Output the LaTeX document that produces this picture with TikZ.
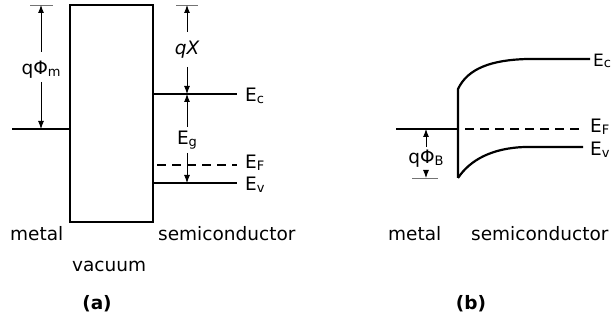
\documentclass[tikz,border=0pt]{standalone}
\usepackage{fontspec}
\setmainfont{DejaVu Sans}
\usetikzlibrary{arrows.meta}
\begin{document}
\begin{tikzpicture}[x=1pt,y=-1pt,
  band/.style={line width=2.2pt},
  dashband/.style={line width=2.2pt,dash pattern=on 9pt off 6pt},
  dim/.style={line width=0.9pt,-{Latex[length=8pt,width=6pt]}},
  tickline/.style={line width=0.8pt,black!55},
  lbl/.style={font=\fontsize{18.5}{22}\selectfont,inner sep=0pt},
  elbl/.style={font=\fontsize{18.5}{22}\selectfont,inner sep=0pt,anchor=west},
]
\newcommand{\sbs}[1]{\raisebox{-1.5pt}{\fontsize{13}{13}\selectfont #1}}
\useasboundingbox (0,0) rectangle (614,326);
% ---------------- (a) ----------------
\coordinate (vtl) at (70,5);
\coordinate (vbr) at (153,222);
\draw[band] (vtl) rectangle (vbr);
\coordinate (mL) at (12,129);
\coordinate (mR) at (70,129);
\draw[band] (mL) -- (mR);
\coordinate (ecL) at (153,94);
\coordinate (ecR) at (237,94);
\draw[band] (ecL) -- (ecR);
\coordinate (efL) at (157,165);
\coordinate (efR) at (237,165);
\draw[dashband] (efL) -- (efR);
\coordinate (evL) at (153,183);
\coordinate (evR) at (237,183);
\draw[band] (evL) -- (evR);
\node[elbl] (ec) at (245,96) {E\sbs{c}};
\node[elbl] (ef) at (245,163) {E\sbs{F}};
\node[elbl] (ev) at (245,185) {E\sbs{v}};
% q Phi m
\coordinate (t1a) at (30,5);
\coordinate (t1b) at (53,5);
\draw[tickline] (t1a) -- (t1b);
\coordinate (p1top) at (41,5);
\coordinate (p1bot) at (41,129);
\node[lbl] (phim) at (41,70) {qΦ\sbs{m}};
\draw[dim] (41,52) -- (p1top);
\draw[dim] (41,82) -- (p1bot);
% q chi
\coordinate (t2a) at (176,5);
\coordinate (t2b) at (198,5);
\draw[tickline] (t2a) -- (t2b);
\coordinate (chitop) at (187,5);
\coordinate (chibot) at (187,94);
\node[lbl] (chi) at (187,50) {\itshape qX};
\draw[dim] (187,32) -- (chitop);
\draw[dim] (187,67) -- (chibot);
% Eg
\coordinate (egtop) at (187,94);
\coordinate (egbot) at (187,183);
\node[lbl] (eg) at (187,140) {E\sbs{g}};
\draw[dim] (187,127) -- (egtop);
\draw[dim] (187,153) -- (egbot);
% labels
\node[lbl,anchor=west] (metA) at (10,234) {metal};
\node[lbl,anchor=west] (semA) at (158,234) {semiconductor};
\node[lbl,anchor=west] (vac) at (72,266) {vacuum};
\node[lbl,font=\fontsize{18.5}{22}\selectfont\bfseries] (a) at (97,304) {(a)};
% ---------------- (b) ----------------
\coordinate (bmL) at (396,129);
\coordinate (bmR) at (458,129);
\draw[band] (bmL) -- (bmR);
\coordinate (itop) at (458,89);
\coordinate (ibot) at (458,178);
\draw[band] (ibot) -- (itop) .. controls (468,68) and (492,60) .. (527,59) -- (590,59);
\draw[band] (ibot) .. controls (470,160) and (492,148) .. (525,147) -- (583,147);
\coordinate (befL) at (465,129);
\coordinate (befR) at (583,129);
\draw[dashband] (befL) -- (befR);
\node[elbl,font=\fontsize{17}{20}\selectfont] (bec) at (593,61) {E\sbs{c}};
\node[elbl] (bef) at (590,127) {E\sbs{F}};
\node[elbl] (bev) at (590,150) {E\sbs{v}};
% q Phi B
\coordinate (t3a) at (412,178);
\coordinate (t3b) at (438,178);
\draw[tickline] (t3a) -- (t3b);
\coordinate (pbtop) at (426,129);
\coordinate (pbbot) at (426,178);
\node[lbl] (phib) at (426,159) {qΦ\sbs{B}};
\draw[dim] (426,147) -- (pbtop);
\draw[dim] (426,170) -- (pbbot);
\node[lbl,anchor=west] (metB) at (388,234) {metal};
\node[lbl,anchor=west] (semB) at (471,234) {semiconductor};
\node[lbl,font=\fontsize{18.5}{22}\selectfont\bfseries] (b) at (471,304) {(b)};
\end{tikzpicture}
\end{document}
